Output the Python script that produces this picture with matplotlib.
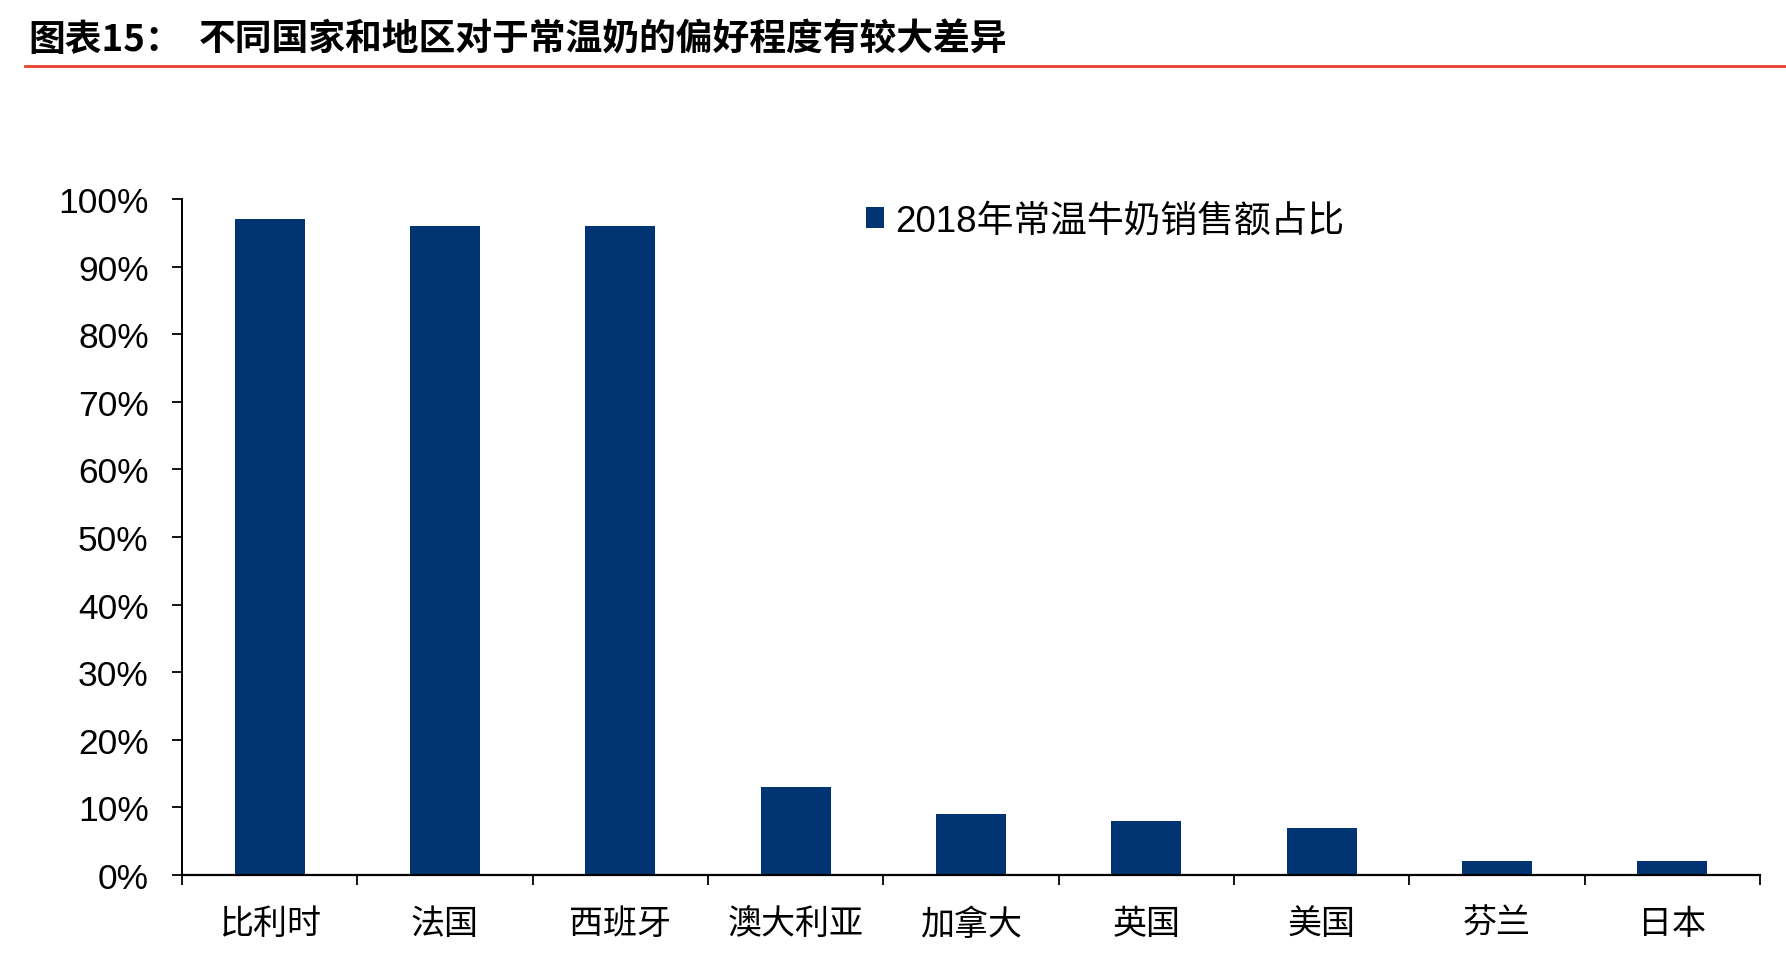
import numpy as np
import matplotlib
matplotlib.use("Agg")
import matplotlib.pyplot as plt
from matplotlib.ticker import FixedLocator, FuncFormatter

plt.rcParams['font.family'] = ['Liberation Sans', 'Noto Sans CJK SC']

countries = ["比利时", "法国", "西班牙", "澳大利亚", "加拿大", "英国", "美国", "芬兰", "日本"]
share = [0.97, 0.96, 0.96, 0.13, 0.09, 0.08, 0.07, 0.02, 0.02]
series_name = "2018年常温牛奶销售额占比"
title_tag = "图表15："
title_text = "不同国家和地区对于常温奶的偏好程度有较大差异"
y_ticks = np.arange(0, 1.01, 0.1)

W, H = 1786, 970
fig = plt.figure(figsize=(W / 100, H / 100), dpi=100)

# axes box in pixels
left, right, bottom, top = 182, 1760, 876, 200
ax = fig.add_axes([left / W, 1 - bottom / H, (right - left) / W, (bottom - top) / H])

x = np.arange(len(countries))
bars = ax.bar(x, share, width=0.4, color="#003473", label=series_name)

ax.set_xlim(-0.5, len(countries) - 0.5)
ax.set_ylim(0, 1)

ax.spines["top"].set_visible(False)
ax.spines["right"].set_visible(False)
ax.spines["left"].set_linewidth(1.4)
ax.spines["bottom"].set_linewidth(1.6)

ax.set_yticks(y_ticks)
ax.yaxis.set_major_formatter(FuncFormatter(lambda v, p: f"{v * 100:.0f}%"))
ax.tick_params(axis="y", direction="out", length=7, width=1.3, pad=17, labelsize=25.5)

# category boundaries as major ticks, labels on minor ticks
ax.xaxis.set_major_locator(FixedLocator(np.arange(-0.5, len(countries), 1.0)))
ax.xaxis.set_major_formatter(FuncFormatter(lambda v, p: ""))
ax.xaxis.set_minor_locator(FixedLocator(x))
ax.set_xticklabels(countries, minor=True)
ax.tick_params(axis="x", which="major", direction="out", length=7, width=1.3)
ax.tick_params(axis="x", which="minor", length=0, pad=24, labelsize=24.5)

fig.legend(handles=[bars], labels=[series_name], loc="center left",
           bbox_to_anchor=(866 / W, 1 - 222 / H), frameon=False,
           fontsize=26.5, handlelength=0.5, handleheight=0.5,
           handletextpad=0.3, borderpad=0, borderaxespad=0)

# title and red rule
fig.text(28 / W, 1 - 40 / H, title_tag, fontsize=26.5, fontweight="bold",
         va="center", ha="left", family=['Noto Sans CJK SC'])
fig.text(199 / W, 1 - 40 / H, title_text, fontsize=26.5, fontweight="bold",
         va="center", ha="left", family=['Noto Sans CJK SC'])
fig.add_artist(plt.Line2D([25 / W, 1], [1 - 67 / H, 1 - 67 / H],
                          transform=fig.transFigure, color="#e8412c", linewidth=2))

fig.savefig("out.png", dpi=100)
